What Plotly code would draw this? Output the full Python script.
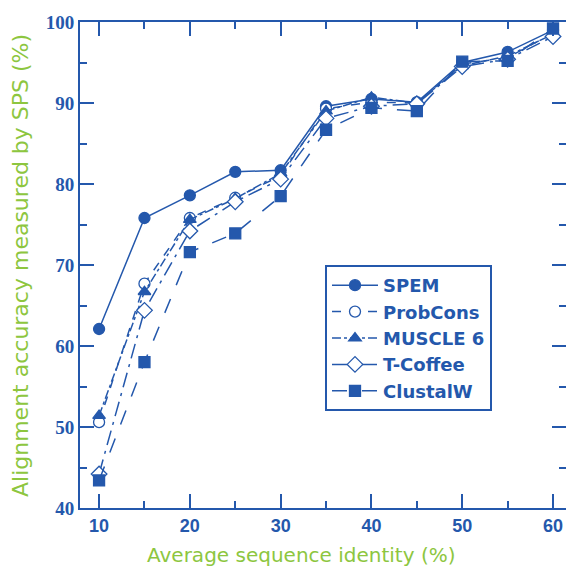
import plotly.graph_objects as go

identity = [10, 15, 20, 25, 30, 35, 40, 45, 50, 55, 60]
spem     = [62.1, 75.8, 78.6, 81.5, 81.7, 89.6, 90.5, 90.1, 95.0, 96.3, 99.0]
probcons = [50.6, 67.7, 75.8, 78.3, 81.0, 89.3, 90.1, 90.0, 94.8, 95.6, 98.6]
muscle   = [51.4, 66.7, 75.6, 78.2, 81.3, 89.0, 90.7, 90.0, 94.6, 95.8, 98.5]
tcoffee  = [44.2, 64.4, 74.2, 77.8, 80.6, 88.1, 89.6, 89.9, 94.5, 95.4, 98.2]
clustalw = [43.4, 58.0, 71.6, 73.9, 78.5, 86.7, 89.4, 89.0, 95.1, 95.2, 99.2]

names = ["SPEM", "ProbCons", "MUSCLE 6", "T-Coffee", "ClustalW"]
series = [spem, probcons, muscle, tcoffee, clustalw]
x_title = "Average sequence identity (%)"
y_title = "Alignment accuracy measured by SPS (%)"

BLUE = "#2458AC"
GREEN = "#8DC63F"
styles = [
    ("circle", "solid", BLUE),
    ("circle", "dash", "white"),
    ("triangle-up", "dashdot", BLUE),
    ("diamond", "longdashdot", "white"),
    ("square", "longdash", BLUE),
]

fig = go.Figure()
for name, ys, (sym, dash, fill) in zip(names, series, styles):
    fig.add_trace(go.Scatter(
        x=identity, y=ys, name=name, mode="lines+markers",
        line=dict(color=BLUE, width=1.5, dash=dash),
        marker=dict(symbol=sym, size=11 if sym != "diamond" else 12,
                    color=fill, line=dict(color=BLUE, width=1.3)),
    ))

# plot area: x 80..566, y 22..508 (window pixels)
fig.update_layout(
    width=566, height=574,
    margin=dict(l=80, r=0, t=22, b=66, autoexpand=False),
    paper_bgcolor="white", plot_bgcolor="white",
    showlegend=True,
    legend=dict(x=(325 - 80) / 486, y=1 - (265 - 22) / 486, xanchor="left", yanchor="top",
                bgcolor="white", bordercolor=BLUE, borderwidth=2,
                font=dict(family="DejaVu Sans, sans-serif", size=18, color=BLUE, weight="bold"),
                tracegroupgap=0, itemwidth=46),
    annotations=[
        dict(text=x_title, xref="paper", yref="paper", x=(301 - 80) / 486, y=(508 - 555) / 486,
             xanchor="center", yanchor="middle", showarrow=False,
             font=dict(family="DejaVu Sans, sans-serif", size=20, color=GREEN)),
        dict(text=y_title, xref="paper", yref="paper", x=(20 - 80) / 486, y=(508 - 266) / 486,
             xanchor="center", yanchor="middle", showarrow=False, textangle=-90,
             font=dict(family="DejaVu Sans, sans-serif", size=22, color=GREEN)),
    ],
)
fig.update_xaxes(
    range=[7.9, 61.43], tickmode="array", tickvals=[10, 20, 30, 40, 50, 60],
    ticks="inside", ticklen=14, tickwidth=2, tickcolor=BLUE,
    minor=dict(dtick=5, tick0=0, ticks="inside", ticklen=7, tickwidth=2, tickcolor=BLUE),
    showline=True, linecolor=BLUE, linewidth=2, mirror="ticks",
    showgrid=False, zeroline=False, automargin=False, ticklabeloverflow="allow",
    tickfont=dict(family="Liberation Sans Narrow, Liberation Sans, Arial, sans-serif", size=18, color=BLUE, weight="bold"),
)
fig.update_yaxes(
    range=[40, 100], tickmode="array", tickvals=[40, 50, 60, 70, 80, 90, 100],
    ticks="inside", ticklen=14, tickwidth=2, tickcolor=BLUE,
    minor=dict(dtick=5, tick0=0, ticks="inside", ticklen=7, tickwidth=2, tickcolor=BLUE),
    showline=True, linecolor=BLUE, linewidth=2, mirror="ticks",
    showgrid=False, zeroline=False, automargin=False, ticklabeloverflow="allow",
    tickfont=dict(family="Liberation Serif, Times New Roman, serif", size=19, color=BLUE, weight="bold"),
)

fig.write_html(
    "out.html",
    config={"displayModeBar": False},
    post_script="document.body.style.margin='0';document.body.style.overflow='hidden';",
)
